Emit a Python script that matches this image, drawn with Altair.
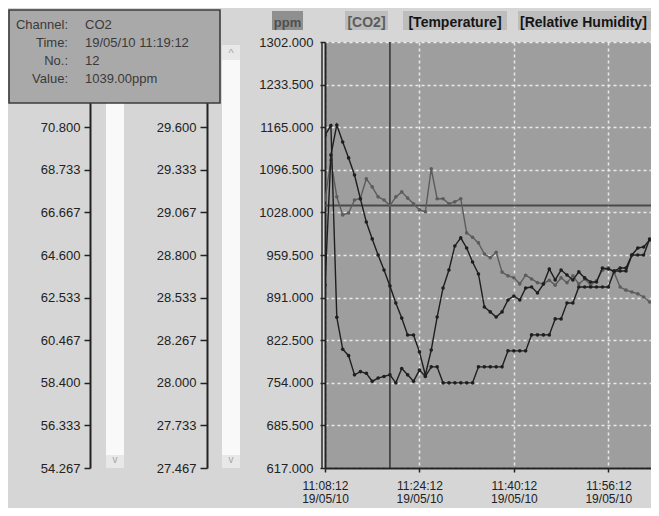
import altair as alt
import pandas as pd

# ---------------- data ----------------
START = "2010-05-19 11:08:12"          # sample No. 1, one sample per minute
co2_ppm = [1048, 1112, 1053, 1024, 1027, 1048, 1051, 1082, 1069, 1053, 1048, 1039,
           1053, 1061, 1051, 1042, 1032, 1029, 1098, 1050, 1050, 1042, 1045, 1050,
           995, 988, 979, 961, 955, 964, 932, 926, 923, 913, 927, 921, 915, 913,
           919, 911, 923, 915, 926, 913, 921, 911, 918, 935, 939, 931, 908, 903,
           900, 897, 892, 884, 879, 874]
temperature = [29.55, 29.61, 28.41, 28.21, 28.17, 28.05, 28.07, 28.06, 28.01, 28.03,
               28.04, 28.05, 28.00, 28.09, 28.05, 28.01, 28.08, 28.04, 28.10, 28.10,
               28.0, 28.0, 28.0, 28.0, 28.0, 28.0,
               28.1, 28.1, 28.1, 28.1, 28.1,
               28.2, 28.2, 28.2, 28.2,
               28.3, 28.3, 28.3, 28.3,
               28.4, 28.4,
               28.5, 28.5,
               28.6, 28.6, 28.6, 28.6, 28.6, 28.6,
               28.7, 28.7, 28.7,
               28.8, 28.8, 28.8,
               28.9, 28.9, 28.9]
humidity = [63.15, 69.45, 70.91, 70.08, 69.31, 68.48, 67.32, 66.20, 65.38, 64.60,
            63.87, 63.10, 62.27, 61.54, 60.72, 60.72, 59.90, 58.78, 59.99, 61.59,
            63.00, 63.87, 65.04, 65.43, 64.94, 64.26, 63.68, 62.08, 61.84, 61.59,
            61.84, 62.42, 62.61, 62.42, 63.00, 63.05, 62.76, 63.19, 63.92, 63.39,
            63.87, 63.63, 63.39, 63.78, 63.49, 63.29, 63.29, 63.97, 63.92, 63.82,
            63.97, 63.97, 64.60, 64.94, 64.99, 65.33, 65.33, 65.43]
sample_no = list(range(1, len(co2_ppm) + 1))

co2_ticks = [617.0, 685.5, 754.0, 822.5, 891.0, 959.5, 1028.0, 1096.5, 1165.0, 1233.5, 1302.0]
temp_ticks = [27.467, 27.733, 28.000, 28.267, 28.533, 28.800, 29.067, 29.333, 29.600, 29.867, 30.133]
rh_ticks = [54.267, 56.333, 58.400, 60.467, 62.533, 64.600, 66.667, 68.733, 70.800, 72.867, 74.933]
time_ticks = [(11, 8, 12), (11, 24, 12), (11, 40, 12), (11, 56, 12)]
time_end = (12, 3, 26)

cursor_no = 12
tooltip_keys = ["Channel:", "Time:", "No.:", "Value:"]
tooltip_vals = ["CO2", "19/05/10 11:19:12", "12", "1039.00ppm"]
legend_items = ["ppm", "[CO2]", "[Temperature]", "[Relative Humidity]"]

# ---------------- table ----------------
times = pd.date_range(START, periods=len(co2_ppm), freq="min")
df = pd.DataFrame({
    "time": times.strftime("%Y-%m-%dT%H:%M:%S"),
    "co2": co2_ppm, "temp": temperature, "rh": humidity, "no": sample_no,
})

FONT = "Liberation Sans"
DARK = "#1e1e1e"
CO2C = "#5c5c5c"
GRID = "#e9e9e9"


def dt(h, m, s):
    return alt.DateTime(year=2010, month=5, date=19, hours=h, minutes=m, seconds=s)


x_enc = alt.X(
    "time:T",
    scale=alt.Scale(domain=[dt(*time_ticks[0]), dt(*time_end)], nice=False),
    axis=alt.Axis(
        values=[dt(*t) for t in time_ticks],
        labelExpr="[timeFormat(datum.value, '%H:%M:%S'), timeFormat(datum.value, '%d/%m/%y')]",
        title=None, grid=True, gridColor=GRID, gridDash=[3, 3], gridWidth=1.5,
        tickSize=4, labelPadding=8, labelFontSize=12, labelLineHeight=13.5, domainWidth=2,
        labelFlush=False, labelOverlap=False,
    ),
)

y_co2 = alt.Y(
    "co2:Q",
    scale=alt.Scale(domain=[617, 1302], nice=False, zero=False),
    axis=alt.Axis(values=co2_ticks, format=".3f", orient="left", offset=0, title=None,
                  grid=True, gridColor=GRID, gridDash=[3, 3], gridWidth=1.5,
                  tickSize=5, labelPadding=7, domainWidth=2, labelOverlap=False),
)
# the two top labels of the left scales lie under the value box in the reference
y_temp = alt.Y(
    "temp:Q",
    scale=alt.Scale(domain=[27.467, 30.133], nice=False, zero=False),
    axis=alt.Axis(values=temp_ticks, orient="left", offset=118, title=None,
                  labelExpr="datum.value > 29.7 ? '' : format(datum.value, '.3f')",
                  grid=False, tickSize=7, labelPadding=4, domainWidth=2, labelOverlap=False),
)
y_rh = alt.Y(
    "rh:Q",
    scale=alt.Scale(domain=[54.267, 74.933], nice=False, zero=False),
    axis=alt.Axis(values=rh_ticks, orient="left", offset=235, title=None,
                  labelExpr="datum.value > 71.5 ? '' : format(datum.value, '.3f')",
                  grid=False, tickSize=6, labelPadding=4, domainWidth=2, labelOverlap=False),
)

base = alt.Chart(df)


def series(y, color):
    line = base.mark_line(color=color, strokeWidth=1.4, clip=True).encode(x=x_enc, y=y)
    pts = base.mark_point(color=color, filled=True, size=13, opacity=1, clip=True).encode(x=x_enc, y=y)
    return line, pts


co2_line, co2_pts = series(y_co2, CO2C)
cur = base.transform_filter(alt.datum.no == cursor_no)
v_cursor = cur.mark_rule(color="#333333", strokeWidth=1.5).encode(x=x_enc)
h_cursor = cur.mark_rule(color="#4a4a4a", strokeWidth=2).encode(y=y_co2)
co2_group = alt.layer(v_cursor, h_cursor, co2_line, co2_pts)

temp_group = alt.layer(*series(y_temp, DARK))
rh_group = alt.layer(*series(y_rh, DARK))

# ---------------- window chrome (not data) ----------------
one = alt.Chart(alt.Data(values=[{"d": 0}]))


def box(x1, x2, y1, y2, fill, stroke=None, sw=1.0):
    kw = dict(fill=fill)
    if stroke:
        kw.update(stroke=stroke, strokeWidth=sw)
    return one.mark_rect(**kw).encode(
        x=alt.value(x1), x2=alt.value(x2), y=alt.value(y1), y2=alt.value(y2))


def label(x, y, txt, color="#222222", size=13, weight="normal", align="center",
          baseline="middle", font=FONT, lh=None):
    kw = dict(align=align, baseline=baseline, fontSize=size, fontWeight=weight,
              color=color, font=font)
    if lh:
        kw["lineHeight"] = lh
    return one.mark_text(**kw).encode(x=alt.value(x), y=alt.value(y), text=alt.value(txt))


chrome = [
    # outer double line of the plot frame
    one.mark_rule(color="#2a2a2a", strokeWidth=1.5).encode(
        x=alt.value(-3), y=alt.value(0), y2=alt.value(426)),
    # scrollbars
    box(-219, -201, 60, 413, "#f9f9f9"),
    box(-219, -201, 413, 426, "#e8e8e8"),
    label(-210, 418, "v", color="#a6a6a6", size=10),
    box(-103, -85, 3, 18, "#e8e8e8"),
    label(-94, 12, "^", color="#a6a6a6", size=11),
    box(-103, -85, 18, 413, "#f9f9f9"),
    box(-103, -85, 413, 426, "#e8e8e8"),
    label(-94, 418, "v", color="#a6a6a6", size=10),
    # value box
    box(-316, -105, -32, 61, "#a9a9a9", stroke="#3c3c3c", sw=1.6),
    label(-257, -23, tooltip_keys, color="#3a3a3a", align="right", baseline="top", lh=18),
    label(-240, -23, tooltip_vals, color="#3a3a3a", align="left", baseline="top", lh=18),
    # legend row
    box(-53, -22, -31, -12, "#8f8f8f"),
    label(-37.5, -19.5, legend_items[0], color="#505050", weight="bold", size=13),
    box(20, 63, -31, -12, "#bdbdbd"),
    label(41.5, -19.5, legend_items[1], color=CO2C, weight="bold", size=14),
    box(78, 182, -31, -12, "#bdbdbd"),
    label(130, -19.5, legend_items[2], color="#151515", weight="bold", size=14),
    box(193, 326, -31, -12, "#bdbdbd"),
    label(195, -19.5, legend_items[3], color="#151515", weight="bold", size=14, align="left"),
]

chart = (
    alt.layer(co2_group, temp_group, rh_group, *chrome)
    .resolve_scale(y="independent")
    .properties(
        width=326, height=426,
        autosize=alt.AutoSizeParams(type="none"),
        padding={"left": 317, "top": 34, "right": 0, "bottom": 40},
        background="#d6d6d6",
    )
    .configure_view(fill="#9e9e9e", stroke=None)
    .configure_axis(labelFont=FONT, labelFontSize=13, labelColor="#222222",
                    tickColor="#222222", tickWidth=1.5, domainColor="#222222")
)

chart.save("out.html", embed_options={"renderer": "svg", "actions": False})
